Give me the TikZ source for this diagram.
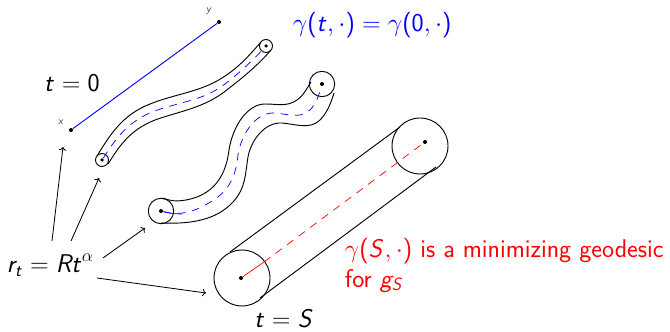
\documentclass[tikz,border=0pt]{standalone}
\usetikzlibrary{arrows.meta, positioning, calc}
\DeclareSymbolFont{operators}{OT1}{cmss}{m}{n}
\DeclareSymbolFont{sfslant}{OT1}{cmss}{m}{sl}
\DeclareSymbolFontAlphabet{\mv}{sfslant}
\DeclareMathSizes{24.88}{24.88}{17.28}{12}
\definecolor{cblue}{HTML}{0000FF}
\definecolor{cred}{HTML}{FF0000}
\tikzset{
  every picture/.style={font=\sffamily, line width=0.9pt},
  dotpt/.style={circle, fill=black, inner sep=0pt, minimum size=3.9pt},
  disc/.style={circle, draw, inner sep=0pt, minimum size=#1*0.0682cm},
  axis/.style={draw=#1, line width=0.7pt, dash pattern=on 7.5pt off 6.5pt},
  arrow/.style={->, draw=black, line width=0.8pt},
  lab/.style={font=\fontsize{24.88}{29}\selectfont\sffamily},
  tiny/.style={font=\fontsize{10}{11}\selectfont\sffamily, text=black!80},
}

\begin{document}
\begin{tikzpicture}[x=0.0341cm, y=-0.0341cm]
  \useasboundingbox (0,0) rectangle (670,332);
  % time zero
  \node[dotpt] (x) at (71,130) {};
  \node[dotpt] (y) at (219,22) {};
  \node[tiny] (xl) at (61,122) {$\mv{x}$};
  \node[tiny] (yl) at (209,11) {$\mv{y}$};
  \draw[cblue] (x) -- (y);
  \node[lab] (t0) at (72,83) {$\mv{t}=0$};
  \node[lab, text=cblue, anchor=west] (gam) at (289,25) {$\gamma(\mv{t},\cdot)=\gamma(0,\cdot)$};
  % first tube
  \node[dotpt, minimum size=3.4pt] (a1) at (102,160) {};
  \node[dotpt, minimum size=3.4pt] (b1) at (266,46) {};
  \node[disc=6.5] (ca1) at (102,160) {};
  \node[disc=6.5] (cb1) at (266,46) {};
  \draw (97,156) .. controls (110,135) and (122,115) .. (150,104) .. controls (175,94) and (200,92) .. (222,78) .. controls (240,67) and (252,52) .. (261,42);
  \draw (108,164) .. controls (120,145) and (130,130) .. (155,120) .. controls (180,111) and (205,108) .. (228,89) .. controls (245,76) and (260,63) .. (271,50);
  \draw[axis=cblue] (a1) .. controls (115,140) and (126,123) .. (152,112) .. controls (178,102) and (203,101) .. (225,84) .. controls (242,71) and (256,57) .. (b1);
  % second tube
  \node[dotpt] (a2) at (161,211) {};
  \node[dotpt] (b2) at (322,84) {};
  \node[disc=12.7] (ca2) at (161,211) {};
  \node[disc=12.7] (cb2) at (322,84) {};
  \draw (163,198) .. controls (172,202) and (183,202) .. (197,197) .. controls (215,190) and (226,175) .. (229,150) .. controls (233,125) and (248,104) .. (265,104) .. controls (278,104) and (287,107) .. (297,100) .. controls (304,95) and (307,88) .. (311,82);
  \draw (161,223) .. controls (185,224) and (212,222) .. (230,205) .. controls (246,190) and (245,175) .. (248,157) .. controls (251,140) and (265,122) .. (282,123) .. controls (295,124) and (310,130) .. (320,120) .. controls (327,113) and (331,103) .. (334,93);
  \draw[axis=cblue] (a2) .. controls (180,216) and (195,212) .. (212,201) .. controls (230,190) and (236,175) .. (238,155) .. controls (241,135) and (255,113) .. (273,113) .. controls (285,113) and (300,120) .. (310,110) .. controls (316,104) and (319,95) .. (b2);
  \draw[cblue, line width=0.7pt] (a2) .. controls (168,213) and (175,214) .. (182,214);
  % third tube
  \node[dotpt] (a3) at (241,278) {};
  \node[dotpt] (b3) at (425,142) {};
  \node[disc=28] (ca3) at (242,278) {};
  \node[disc=28] (cb3) at (420,146) {};
  \coordinate (p1) at (230,252);
  \coordinate (p2) at (400,127);
  \coordinate (q1) at (260,298);
  \coordinate (q2) at (436,167);
  \draw (p1) -- (p2);
  \draw (q1) -- (q2);
  \coordinate (m3) at (264,262);
  \draw[cred, line width=0.7pt] (a3) -- (m3);
  \draw[axis=cred] (m3) -- (b3);
  \node[lab] (tS) at (284,319) {$\mv{t}=\mv{S}$};
  \node[lab, text=cred, anchor=west, align=left] (mini) at (341,265) {$\gamma(\mv{S},\cdot)$ is a minimizing geodesic\\for $\mv{g}_{\mv{S}}$};
  % radius arrows
  \node[lab, anchor=west] (rt) at (3,265) {$\mv{r}_{\mv{t}}=\mv{Rt}^\alpha$};
  \coordinate (s1) at (52,241);
  \coordinate (e1) at (63,147);
  \coordinate (s2) at (71,241);
  \coordinate (e2) at (99,178);
  \coordinate (s3) at (103,258);
  \coordinate (e3) at (145,228);
  \coordinate (s4) at (97,278);
  \coordinate (e4) at (206,293);
  \foreach \i in {1,...,4} {
    \draw[arrow] (s\i) -- (e\i);
  }
\end{tikzpicture}
\end{document}
